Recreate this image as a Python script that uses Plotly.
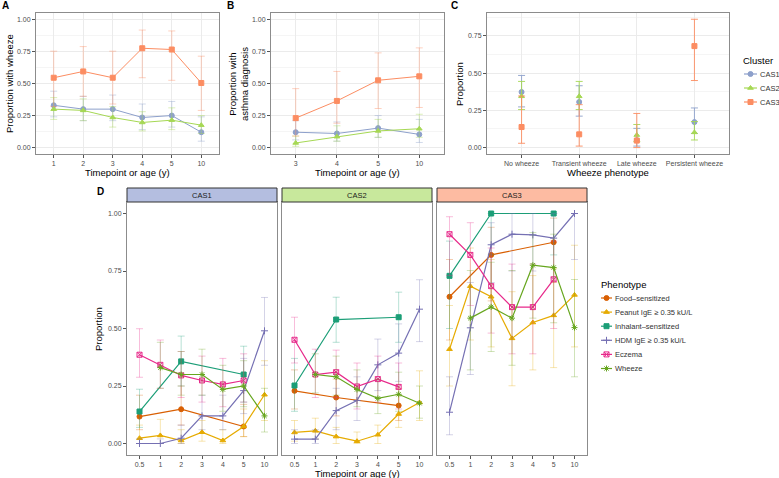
import plotly.graph_objects as go

# ---------------- DATA ----------------
clusters = ["CAS1", "CAS2", "CAS3"]
cluster_colors = ["#8DA0CB", "#A6D854", "#FC8D62"]
cluster_symbols = ["circle", "triangle-up", "square"]

# Panel A: proportion with wheeze
a_x = ["1", "2", "3", "4", "5", "10"]
a_cas1 = [0.33, 0.30, 0.30, 0.235, 0.25, 0.12]
a_cas1_lo = [0.24, 0.21, 0.21, 0.14, 0.16, 0.05]
a_cas1_hi = [0.44, 0.40, 0.41, 0.34, 0.36, 0.24]
a_cas2 = [0.30, 0.29, 0.235, 0.196, 0.214, 0.175]
a_cas2_lo = [0.22, 0.21, 0.16, 0.13, 0.14, 0.11]
a_cas2_hi = [0.39, 0.38, 0.32, 0.28, 0.31, 0.25]
a_cas3 = [0.545, 0.594, 0.545, 0.775, 0.765, 0.504]
a_cas3_lo = [0.32, 0.40, 0.34, 0.545, 0.525, 0.29]
a_cas3_hi = [0.752, 0.788, 0.752, 0.917, 0.91, 0.713]

# Panel B: proportion with asthma diagnosis
b_x = ["3", "4", "5", "10"]
b_cas1 = [0.12, 0.11, 0.152, 0.103]
b_cas1_lo = [0.06, 0.05, 0.08, 0.04]
b_cas1_hi = [0.21, 0.20, 0.25, 0.22]
b_cas2 = [0.036, 0.085, 0.13, 0.147]
b_cas2_lo = [0.01, 0.05, 0.08, 0.08]
b_cas2_hi = [0.09, 0.17, 0.22, 0.26]
b_cas3 = [0.23, 0.364, 0.525, 0.556]
b_cas3_lo = [0.09, 0.19, 0.305, 0.313]
b_cas3_hi = [0.46, 0.594, 0.739, 0.778]

# Panel C: wheeze phenotype
c_x = ["No wheeze", "Transient wheeze", "Late wheeze", "Persistent wheeze"]
c_cas1 = [0.373, 0.306, 0.05, 0.171]
c_cas1_lo = [0.273, 0.211, 0.01, 0.095]
c_cas1_hi = [0.484, 0.415, 0.129, 0.266]
c_cas2 = [0.344, 0.344, 0.084, 0.102]
c_cas2_lo = [0.255, 0.255, 0.04, 0.051]
c_cas2_hi = [0.444, 0.444, 0.155, 0.175]
c_cas3 = [0.138, 0.089, 0.047, 0.681]
c_cas3_lo = [0.029, 0.01, 0.0, 0.45]
c_cas3_hi = [0.346, 0.288, 0.229, 0.861]

# Panel D: phenotypes by cluster
d_x = ["0.5", "1", "2", "3", "4", "5", "10"]
phenotypes = ["Food\u2013sensitized", "Peanut IgE \u2265 0.35 kU/L", "Inhalant\u2013sensitized",
              "HDM IgE \u2265 0.35 kU/L", "Eczema", "Wheeze"]
pheno_colors = ["#D95F02", "#E6AB02", "#1B9E77", "#7570B3", "#E7298A", "#66A61E"]
pheno_symbols = ["circle", "triangle-up", "square", "cross-thin-open", "square-x-open", "asterisk-open"]

food_x = ["0.5", "2", "5"]
peanut_x = ["0.5", "1", "2", "3", "4", "5", "10"]
inhal_x = ["0.5", "2", "5"]
hdm_x = ["0.5", "1", "2", "3", "4", "5", "10"]
eczema_x = ["0.5", "1", "2", "3", "4", "5"]
wheeze_x = ["1", "2", "3", "4", "5", "10"]

# CAS1
cas1_food = [0.117, 0.149, 0.074]
cas1_food_lo = [0.06, 0.08, 0.03]
cas1_food_hi = [0.21, 0.25, 0.17]
cas1_peanut = [0.023, 0.035, 0.013, 0.049, 0.013, 0.074, 0.212]
cas1_peanut_lo = [0.0, 0.0, 0.0, 0.01, 0.0, 0.03, 0.10]
cas1_peanut_hi = [0.08, 0.105, 0.06, 0.10, 0.06, 0.15, 0.36]
cas1_inhal = [0.139, 0.357, 0.30]
cas1_inhal_lo = [0.07, 0.25, 0.18]
cas1_inhal_hi = [0.236, 0.467, 0.423]
cas1_hdm = [0.0, 0.0, 0.023, 0.12, 0.12, 0.23, 0.49]
cas1_hdm_lo = [0.0, 0.0, 0.0, 0.06, 0.06, 0.13, 0.34]
cas1_hdm_hi = [0.02, 0.02, 0.08, 0.21, 0.21, 0.37, 0.635]
cas1_eczema = [0.386, 0.342, 0.296, 0.274, 0.257, 0.274]
cas1_eczema_lo = [0.288, 0.24, 0.20, 0.18, 0.16, 0.18]
cas1_eczema_hi = [0.499, 0.45, 0.40, 0.38, 0.37, 0.39]

# CAS2
cas2_food = [0.229, 0.20, 0.165]
cas2_food_lo = [0.15, 0.12, 0.10]
cas2_food_hi = [0.32, 0.28, 0.24]
cas2_peanut = [0.048, 0.055, 0.030, 0.010, 0.038, 0.128, 0.178]
cas2_peanut_lo = [0.01, 0.02, 0.0, 0.0, 0.0, 0.07, 0.10]
cas2_peanut_hi = [0.10, 0.11, 0.07, 0.05, 0.08, 0.21, 0.316]
cas2_inhal = [0.252, 0.539, 0.549]
cas2_inhal_lo = [0.14, 0.44, 0.44]
cas2_inhal_hi = [0.37, 0.636, 0.658]
cas2_hdm = [0.019, 0.019, 0.143, 0.187, 0.342, 0.393, 0.584]
cas2_hdm_lo = [0.0, 0.0, 0.06, 0.10, 0.23, 0.27, 0.443]
cas2_hdm_hi = [0.06, 0.06, 0.24, 0.29, 0.454, 0.52, 0.712]
cas2_eczema = [0.451, 0.30, 0.310, 0.248, 0.28, 0.246]
cas2_eczema_lo = [0.35, 0.20, 0.20, 0.15, 0.18, 0.15]
cas2_eczema_hi = [0.549, 0.41, 0.406, 0.35, 0.38, 0.35]

# CAS3
cas3_food = [0.638, 0.820, 0.875]
cas3_food_lo = [0.45, 0.62, 0.70]
cas3_food_hi = [0.80, 0.94, 0.98]
cas3_peanut = [0.41, 0.684, 0.638, 0.457, 0.526, 0.557, 0.646]
cas3_peanut_lo = [0.25, 0.45, 0.42, 0.251, 0.32, 0.33, 0.42]
cas3_peanut_hi = [0.60, 0.85, 0.80, 0.66, 0.73, 0.76, 0.862]
cas3_inhal = [0.729, 1.0, 1.0]
cas3_inhal_lo = [0.50, 0.82, 0.82]
cas3_inhal_hi = [0.88, 1.0, 1.0]
cas3_hdm = [0.136, 0.503, 0.864, 0.91, 0.907, 0.893, 1.0]
cas3_hdm_lo = [0.038, 0.30, 0.70, 0.75, 0.75, 0.72, 0.80]
cas3_hdm_hi = [0.29, 0.70, 0.96, 1.0, 1.0, 1.0, 1.0]
cas3_eczema = [0.91, 0.82, 0.684, 0.593, 0.593, 0.714]
cas3_eczema_lo = [0.73, 0.60, 0.48, 0.39, 0.39, 0.50]
cas3_eczema_hi = [0.986, 0.96, 0.85, 0.78, 0.78, 0.88]

# ---------------- FIGURE ----------------
W, H = 779, 478
FONT = "Liberation Sans, Arial, sans-serif"
fig = go.Figure()


def rgba(hexc, a):
    h = hexc.lstrip("#")
    return "rgba(%d,%d,%d,%.2f)" % (int(h[0:2], 16), int(h[2:4], 16), int(h[4:6], 16), a)


def px_x(v):
    return v / W


def px_y(v):
    return 1 - v / H


def add_series(x, y, lo, hi, color, symbol, xa, ya, name,
               msize=5, lw=1.0, ealpha=0.55, mode="lines+markers"):
    fig.add_trace(go.Scatter(
        x=x, y=y, mode=mode, name=name, showlegend=False,
        xaxis=xa, yaxis=ya,
        line=dict(color=color, width=lw),
        marker=dict(color=color, symbol=symbol, size=msize,
                    line=dict(color=color, width=1)),
        error_y=dict(type="data", symmetric=False,
                     array=[h - v for h, v in zip(hi, y)],
                     arrayminus=[v - l for v, l in zip(y, lo)],
                     color=rgba(color, ealpha), thickness=0.9, width=3.5),
    ))


# Panel A
for i, (v, lo, hi) in enumerate([(a_cas1, a_cas1_lo, a_cas1_hi),
                                 (a_cas2, a_cas2_lo, a_cas2_hi),
                                 (a_cas3, a_cas3_lo, a_cas3_hi)]):
    add_series(a_x, v, lo, hi, cluster_colors[i], cluster_symbols[i], "x", "y",
               clusters[i], ealpha=0.45)
# Panel B
for i, (v, lo, hi) in enumerate([(b_cas1, b_cas1_lo, b_cas1_hi),
                                 (b_cas2, b_cas2_lo, b_cas2_hi),
                                 (b_cas3, b_cas3_lo, b_cas3_hi)]):
    add_series(b_x, v, lo, hi, cluster_colors[i], cluster_symbols[i], "x2", "y2",
               clusters[i], ealpha=0.45)
# Panel C (points only)
for i, (v, lo, hi) in enumerate([(c_cas1, c_cas1_lo, c_cas1_hi),
                                 (c_cas2, c_cas2_lo, c_cas2_hi),
                                 (c_cas3, c_cas3_lo, c_cas3_hi)]):
    add_series(c_x, v, lo, hi, cluster_colors[i], cluster_symbols[i], "x3", "y3",
               clusters[i], mode="markers", ealpha=1.0)

# Panel D
d_sets = [
    [(food_x, cas1_food, cas1_food_lo, cas1_food_hi),
     (peanut_x, cas1_peanut, cas1_peanut_lo, cas1_peanut_hi),
     (inhal_x, cas1_inhal, cas1_inhal_lo, cas1_inhal_hi),
     (hdm_x, cas1_hdm, cas1_hdm_lo, cas1_hdm_hi),
     (eczema_x, cas1_eczema, cas1_eczema_lo, cas1_eczema_hi),
     (wheeze_x, a_cas1, a_cas1_lo, a_cas1_hi)],
    [(food_x, cas2_food, cas2_food_lo, cas2_food_hi),
     (peanut_x, cas2_peanut, cas2_peanut_lo, cas2_peanut_hi),
     (inhal_x, cas2_inhal, cas2_inhal_lo, cas2_inhal_hi),
     (hdm_x, cas2_hdm, cas2_hdm_lo, cas2_hdm_hi),
     (eczema_x, cas2_eczema, cas2_eczema_lo, cas2_eczema_hi),
     (wheeze_x, a_cas2, a_cas2_lo, a_cas2_hi)],
    [(food_x, cas3_food, cas3_food_lo, cas3_food_hi),
     (peanut_x, cas3_peanut, cas3_peanut_lo, cas3_peanut_hi),
     (inhal_x, cas3_inhal, cas3_inhal_lo, cas3_inhal_hi),
     (hdm_x, cas3_hdm, cas3_hdm_lo, cas3_hdm_hi),
     (eczema_x, cas3_eczema, cas3_eczema_lo, cas3_eczema_hi),
     (wheeze_x, a_cas3, a_cas3_lo, a_cas3_hi)],
]
for k, sets in enumerate(d_sets):
    xa, ya = "x%d" % (4 + k), "y%d" % (4 + k)
    for j, (x, v, lo, hi) in enumerate(sets):
        add_series(x, v, lo, hi, pheno_colors[j], pheno_symbols[j], xa, ya,
                   phenotypes[j], msize=5, lw=1.2, ealpha=0.35)

# ---------------- LEGENDS (drawn on an overlay pixel axis) ----------------
def legend_block(names, colors, symbols, title, tx, ty, key_x0, key_x1, text_x, y0, step):
    fig.add_annotation(x=tx, y=ty, xref="x7", yref="y7", text=title, showarrow=False,
                       xanchor="left", yanchor="middle",
                       font=dict(family=FONT, size=9.5, color="black"))
    for i, (n, c, s) in enumerate(zip(names, colors, symbols)):
        yy = y0 + i * step
        fig.add_trace(go.Scatter(x=[key_x0, key_x1], y=[yy, yy], mode="lines",
                                 xaxis="x7", yaxis="y7", showlegend=False, hoverinfo="skip",
                                 line=dict(color=c, width=1.2)))
        fig.add_trace(go.Scatter(x=[(key_x0 + key_x1) / 2], y=[yy], mode="markers",
                                 xaxis="x7", yaxis="y7", showlegend=False, hoverinfo="skip",
                                 marker=dict(color=c, symbol=s, size=5, line=dict(color=c, width=1))))
        fig.add_annotation(x=text_x, y=yy, xref="x7", yref="y7", text=n, showarrow=False,
                           xanchor="left", yanchor="middle",
                           font=dict(family=FONT, size=7.5, color="#333333"))


legend_block(clusters, cluster_colors, cluster_symbols, "Cluster",
             741, 60, 744, 757, 758, 74, 14)
legend_block(phenotypes, pheno_colors, pheno_symbols, "Phenotype",
             599, 284, 601, 612, 613, 298, 14.1)

# ---------------- AXES ----------------
tickfont = dict(family=FONT, size=7, color="#4D4D4D")
grid = "#EBEBEB"
border = "#8C8C8C"


def xcat(domain, cats, anchor, showgrid=True):
    return dict(domain=domain, type="category", categoryorder="array", categoryarray=cats,
                range=[-0.6, len(cats) - 0.4], anchor=anchor, showgrid=showgrid,
                gridcolor=grid, gridwidth=1, showline=True, mirror=True, linecolor=border,
                linewidth=1, ticks="outside", ticklen=3, tickcolor="#555", tickfont=tickfont,
                zeroline=False, fixedrange=True)


def ylin(domain, rng, anchor, showgrid=True):
    return dict(domain=domain, range=rng, anchor=anchor, showgrid=showgrid, gridcolor=grid,
                tick0=0, dtick=0.25, tickformat=".2f",
                minor=dict(dtick=0.125, showgrid=showgrid, gridcolor="#F5F5F5", ticks=""),
                showline=True, mirror=True, linecolor=border, linewidth=1,
                ticks="outside", ticklen=3, tickcolor="#555", tickfont=tickfont,
                zeroline=False, fixedrange=True)


top_dom = [px_y(154), px_y(13)]
d_dom = [px_y(455), px_y(202)]
dA = [px_x(36), px_x(219)]
dB = [px_x(271), px_x(444)]
dC = [px_x(487), px_x(729)]
dD = [[px_x(127), px_x(277)], [px_x(282), px_x(432)], [px_x(437), px_x(587)]]

layout = dict(
    width=W, height=H, margin=dict(l=0, r=0, t=0, b=0),
    paper_bgcolor="white", plot_bgcolor="rgba(0,0,0,0)", showlegend=False,
    font=dict(family=FONT, size=9, color="black"),
    xaxis=xcat(dA, a_x, "y"), yaxis=ylin(top_dom, [-0.05, 1.05], "x"),
    xaxis2=xcat(dB, b_x, "y2"), yaxis2=ylin(top_dom, [-0.05, 1.05], "x2"),
    xaxis3=xcat(dC, c_x, "y3"), yaxis3=ylin(top_dom, [-0.043, 0.903], "x3"),
)
for k in range(3):
    layout["xaxis%d" % (4 + k)] = xcat(dD[k], d_x, "y%d" % (4 + k), showgrid=False)
    yd = ylin(d_dom, [-0.05, 1.05], "x%d" % (4 + k), showgrid=False)
    if k > 0:
        yd["showticklabels"] = False
        yd["ticks"] = ""
    layout["yaxis%d" % (4 + k)] = yd
# overlay pixel axis for legend keys
layout["xaxis7"] = dict(domain=[0, 1], range=[0, W], anchor="y7", visible=False, fixedrange=True)
layout["yaxis7"] = dict(domain=[0, 1], range=[H, 0], anchor="x7", visible=False, fixedrange=True)
fig.update_layout(**layout)

# ---------------- STRIPS, TITLES ----------------
strip_colors = ["#B4BEE0", "#C8E89C", "#FDBBA2"]
for k in range(3):
    fig.add_shape(type="rect", xref="paper", yref="paper",
                  x0=dD[k][0], x1=dD[k][1], y0=px_y(202), y1=px_y(188),
                  fillcolor=strip_colors[k], line=dict(color="#333333", width=1))
    fig.add_annotation(x=(dD[k][0] + dD[k][1]) / 2, y=px_y(195), xref="paper", yref="paper",
                       text=clusters[k], showarrow=False, xanchor="center", yanchor="middle",
                       font=dict(family=FONT, size=7.5, color="#1A1A1A"))

for t, x, y in [("A", 5, 6), ("B", 230, 6), ("C", 454, 6), ("D", 101, 192)]:
    fig.add_annotation(x=px_x(x), y=px_y(y), xref="paper", yref="paper", text="<b>%s</b>" % t,
                       showarrow=False, xanchor="center", yanchor="middle",
                       font=dict(family=FONT, size=10, color="black"))

titles = [
    ("Timepoint or age (y)", 128, 173, 0),
    ("Timepoint or age (y)", 357, 173, 0),
    ("Wheeze phenotype", 608, 173, 0),
    ("Timepoint or age (y)", 357, 473, 0),
    ("Proportion with wheeze", 9, 84, -90),
    ("Proportion with<br>asthma diagnosis", 238, 84, -90),
    ("Proportion", 459, 84, -90),
    ("Proportion", 98, 329, -90),
]
for t, x, y, ang in titles:
    fig.add_annotation(x=px_x(x), y=px_y(y), xref="paper", yref="paper", text=t,
                       showarrow=False, textangle=ang, xanchor="center", yanchor="middle",
                       font=dict(family=FONT, size=9.5, color="black"))

fig.write_html("out.html", config={"displayModeBar": False, "staticPlot": True},
               post_script="document.body.style.margin='0';document.body.style.overflow='hidden';")
